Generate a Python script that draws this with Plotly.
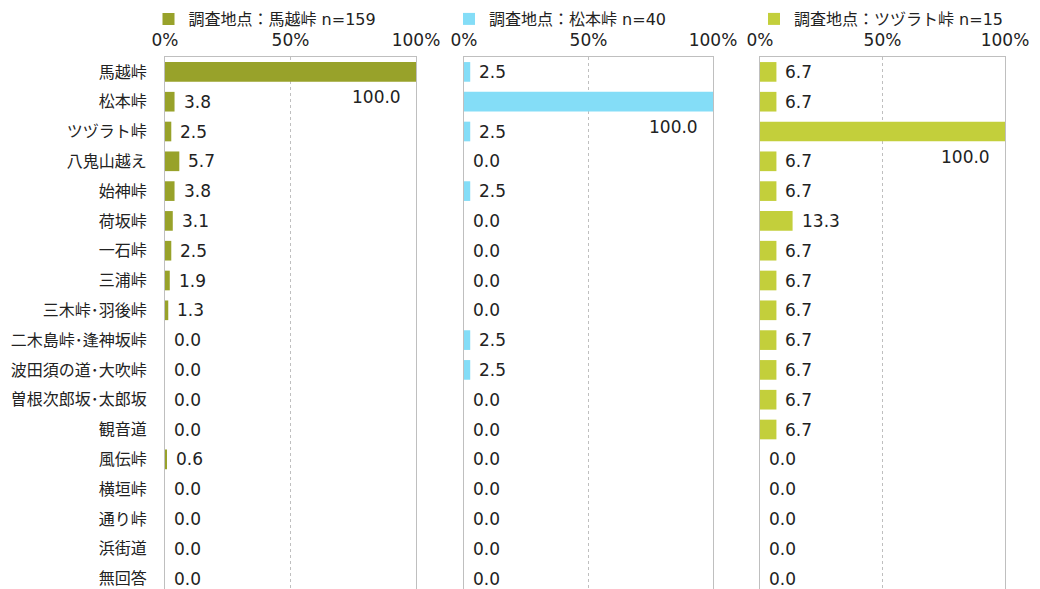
import plotly.graph_objects as go

categories = ["馬越峠", "松本峠", "ツヅラト峠", "八鬼山越え", "始神峠", "荷坂峠", "一石峠", "三浦峠",
              "三木峠･羽後峠", "二木島峠･逢神坂峠", "波田須の道･大吹峠", "曽根次郎坂･太郎坂",
              "観音道", "風伝峠", "横垣峠", "通り峠", "浜街道", "無回答"]
series_names = ["調査地点：馬越峠 n=159", "調査地点：松本峠 n=40", "調査地点：ツヅラト峠 n=15"]
v_umakoshi = [100.0, 3.8, 2.5, 5.7, 3.8, 3.1, 2.5, 1.9, 1.3, 0.0, 0.0, 0.0, 0.0, 0.6, 0.0, 0.0, 0.0, 0.0]
v_matsumoto = [2.5, 100.0, 2.5, 0.0, 2.5, 0.0, 0.0, 0.0, 0.0, 2.5, 2.5, 0.0, 0.0, 0.0, 0.0, 0.0, 0.0, 0.0]
v_tsuzurato = [6.7, 6.7, 100.0, 6.7, 6.7, 13.3, 6.7, 6.7, 6.7, 6.7, 6.7, 6.7, 6.7, 0.0, 0.0, 0.0, 0.0, 0.0]
tick_vals = [0, 50, 100]
tick_text = ["0%", "50%", "100%"]

series = [v_umakoshi, v_matsumoto, v_tsuzurato]
colors = ["#98A22A", "#84DDF7", "#C3CF3B"]
W, H = 1040, 589
OFF = 8  # page body margin offset
FONT = "DejaVu Sans, Noto Sans CJK JP"
CJK = "Noto Sans CJK JP"
TXT = "#222222"
GRID = "#BFBFBF"

px_panels = [(165, 416), (464, 713), (760, 1005)]
x_domains = [((a - OFF) / W, (b - OFF) / W) for a, b in px_panels]
top_px = 57 - OFF
y_dom = (0, 1 - top_px / H)
rows_visible = (H - top_px) / 29.8
legend_sym_center = [172.5, 473, 778]

fig = go.Figure()
annotations = []
for i, (vals, name, col) in enumerate(zip(series, series_names, colors)):
    sfx = "" if i == 0 else str(i + 1)
    fig.add_trace(go.Bar(
        x=vals, y=categories, orientation="h", name=name,
        marker=dict(color=col, line=dict(width=0)), width=0.66,
        xaxis="x" + sfx, yaxis="y" + sfx, legend="legend" + sfx,
        hovertemplate="%{y}: %{x:.1f}<extra></extra>",
    ))
    for c, v in zip(categories, vals):
        if v >= 100:
            annotations.append(dict(x=v, y=c, xref="x" + sfx, yref="y" + sfx, text=f"{v:.1f}",
                                    showarrow=False, xanchor="right", yanchor="middle",
                                    xshift=-13, yshift=-25, font=dict(family=FONT, size=17, color=TXT)))
        else:
            annotations.append(dict(x=v, y=c, xref="x" + sfx, yref="y" + sfx, text=f"{v:.1f}",
                                    showarrow=False, xanchor="left", yanchor="middle",
                                    xshift=7, font=dict(family=FONT, size=17, color=TXT)))

layout = dict(
    width=W, height=H, margin=dict(l=0, r=0, t=0, b=0, autoexpand=False),
    paper_bgcolor="white", plot_bgcolor="white",
    font=dict(family=FONT, color=TXT),
    showlegend=True, annotations=annotations,
)
for i in range(3):
    sfx = "" if i == 0 else str(i + 1)
    layout["xaxis" + sfx] = dict(
        domain=list(x_domains[i]), anchor="y" + sfx, side="top", range=[0, 100],
        tickvals=tick_vals, ticktext=tick_text, showline=True, linecolor=GRID, linewidth=1,
        mirror=False, showgrid=True, gridcolor=GRID, griddash="dot", gridwidth=1,
        zeroline=False, ticks="", tickfont=dict(family=FONT, size=17, color=TXT),
        ticklabelstandoff=3, fixedrange=True, automargin=False, ticklabeloverflow="allow",
    )
    layout["yaxis" + sfx] = dict(
        domain=list(y_dom), anchor="x" + sfx, type="category",
        categoryorder="array", categoryarray=categories,
        range=[rows_visible - 0.5, -0.5], showline=True, linecolor=GRID, linewidth=1, mirror=True,
        showgrid=False, zeroline=False, ticks="", showticklabels=(i == 0),
        tickfont=dict(family=CJK, size=16, color=TXT), ticklabelstandoff=14,
        fixedrange=True, automargin=False,
    )
    layout["legend" + sfx] = dict(
        x=(legend_sym_center[i] - OFF - 24) / W, y=1 - (19 - OFF) / H, xanchor="left", yanchor="middle",
        orientation="h", bgcolor="rgba(0,0,0,0)", borderwidth=0,
        font=dict(family=FONT, size=16, color=TXT), itemwidth=30,
    )
fig.update_layout(**layout)
fig.write_html("out.html")
